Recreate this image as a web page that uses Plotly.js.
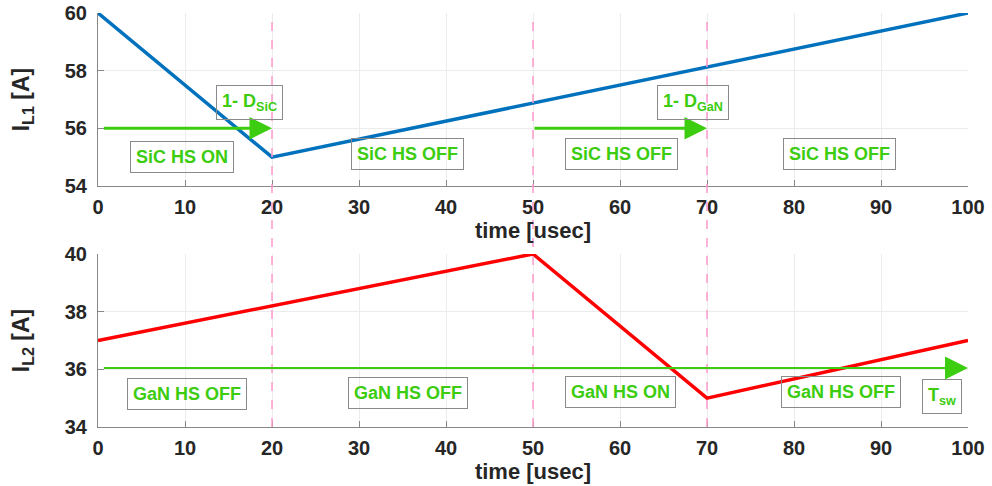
<!DOCTYPE html>
<html>
<head>
<meta charset="utf-8">
<script src="https://cdn.plot.ly/plotly-3.0.1.min.js"></script>
<style>html,body{margin:0;padding:0;background:#fff;}#chart{width:992px;height:486px;}</style>
</head>
<body>
<div id="chart"></div>
<script>
// Data
const timeL1 = [0, 20, 100];
const currentL1 = [60, 55, 60];
const timeL2 = [0, 50, 70, 100];
const currentL2 = [37, 40, 35, 37];
const switchTimes = [20, 50, 70];
const xTicks = [0, 10, 20, 30, 40, 50, 60, 70, 80, 90, 100];
const yTicksL1 = [54, 56, 58, 60];
const yTicksL2 = [34, 36, 38, 40];
// arrows: [tailX, headX, y]
const arrowsL1 = [[0.5, 20, 56], [50, 70, 56]];
const arrowsL2 = [[0.5, 100, 36.05]];
// labels: [text, x, y]
const labelsL1 = [
  ['SiC HS ON', 9.6, 55.02],
  ['1- D<sub>SiC</sub>', 17.4, 56.9],
  ['SiC HS OFF', 35.6, 55.12],
  ['SiC HS OFF', 60.2, 55.1],
  ['1- D<sub>GaN</sub>', 68.4, 56.88],
  ['SiC HS OFF', 85.2, 55.1]
];
const labelsL2 = [
  ['GaN HS OFF', 10.2, 35.16],
  ['GaN HS OFF', 35.6, 35.18],
  ['GaN HS ON', 60.0, 35.21],
  ['GaN HS OFF', 85.4, 35.21],
  ['T<sub>sw</sub>', 97.0, 35.06]
];

const green = '#3ccc10';
const tickColor = '#262626';
const fontFam = 'Liberation Sans, Arial, sans-serif';

const traces = [
  {x: timeL1, y: currentL1, xaxis: 'x', yaxis: 'y', mode: 'lines',
   line: {color: '#0072BD', width: 3.5}, hoverinfo: 'skip'},
  {x: timeL2, y: currentL2, xaxis: 'x2', yaxis: 'y2', mode: 'lines',
   line: {color: '#ff0000', width: 3.5}, hoverinfo: 'skip'}
];

function axisX(anchor) {
  return {
    anchor: anchor, range: [0, 100], tickvals: xTicks, ticks: 'inside', ticklen: 6,
    tickcolor: '#888', tickwidth: 1, showline: true, linecolor: '#888', linewidth: 1,
    showgrid: true, gridcolor: '#ececec', gridwidth: 1, zeroline: false, mirror: false,
    tickfont: {family: fontFam, size: 20, color: tickColor, weight: 'bold'},
    ticklabelstandoff: 3,
    title: {text: '<b>time [usec]</b>', font: {family: fontFam, size: 22, color: tickColor}, standoff: 3},
    fixedrange: true
  };
}
function axisY(anchor, range, ticks, domain, title) {
  return {
    anchor: anchor, range: range, tickvals: ticks, domain: domain, ticks: 'inside', ticklen: 6,
    tickcolor: '#888', tickwidth: 1, showline: true, linecolor: '#888', linewidth: 1,
    showgrid: true, gridcolor: '#ececec', gridwidth: 1, zeroline: false,
    tickfont: {family: fontFam, size: 20, color: tickColor, weight: 'bold'},
    ticklabelstandoff: 6,
    title: {text: title, font: {family: fontFam, size: 23, color: tickColor}, standoff: 28},
    fixedrange: true
  };
}

const annotations = [];
function addArrows(list, xr, yr, width) {
  list.forEach(a => annotations.push({
    x: a[1], y: a[2], ax: a[0], ay: a[2], xref: xr, yref: yr, axref: xr, ayref: yr,
    text: '', showarrow: true, arrowhead: 2, arrowsize: width > 2.5 ? 1.5 : 2.3,
    arrowwidth: width, arrowcolor: green, standoff: 0
  }));
}
function addLabels(list, xr, yr) {
  list.forEach(l => annotations.push({
    x: l[1], y: l[2], xref: xr, yref: yr, text: '<b>' + l[0] + '</b>', showarrow: false,
    font: {family: fontFam, size: 18, color: green}, bordercolor: '#8a8a8a', borderwidth: 1,
    borderpad: 5, bgcolor: 'rgba(255,255,255,0)'
  }));
}
addArrows(arrowsL1, 'x', 'y', 3);
addArrows(arrowsL2, 'x2', 'y2', 2);
addLabels(labelsL1, 'x', 'y');
addLabels(labelsL2, 'x2', 'y2');

const shapes = switchTimes.map(t => ({
  type: 'line', xref: 'x', yref: 'paper', x0: t, x1: t, y0: 0, y1: 1,
  line: {color: '#ff99cc', width: 1.5, dash: 'dash'}, layer: 'above'
}));

const layout = {
  width: 992, height: 486,
  margin: {l: 98, r: 24, t: 13, b: 59, pad: 0},
  paper_bgcolor: '#ffffff', plot_bgcolor: '#ffffff',
  showlegend: false,
  xaxis: axisX('y'),
  yaxis: axisY('x', [54, 60], yTicksL1, [0.5821, 1], '<b>I<sub>L1</sub> [A]</b>'),
  xaxis2: axisX('y2'),
  yaxis2: axisY('x2', [34, 40], yTicksL2, [0, 0.4179], '<b>I<sub>L2</sub> [A]</b>'),
  annotations: annotations,
  shapes: shapes
};

Plotly.newPlot('chart', traces, layout, {staticPlot: true, displayModeBar: false});
</script>
</body>
</html>
